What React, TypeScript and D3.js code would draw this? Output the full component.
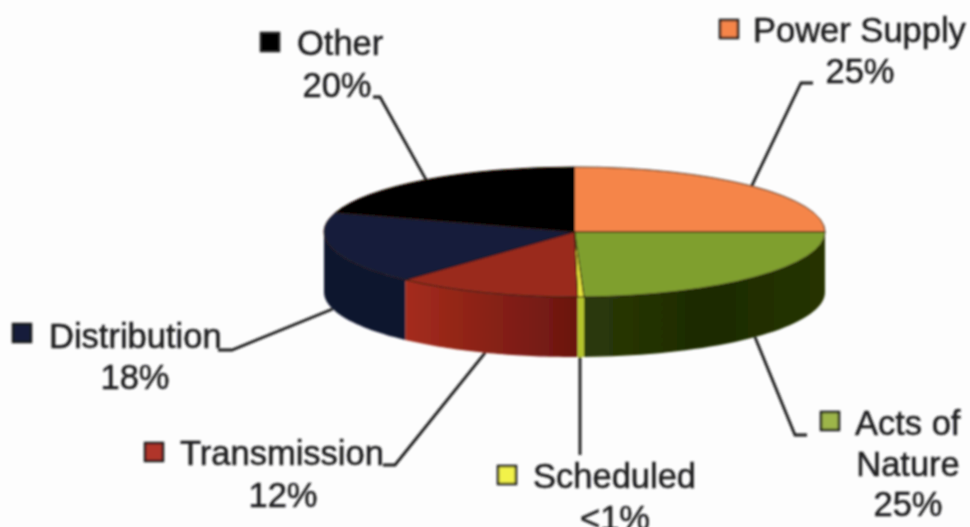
import React from 'react';
import * as d3 from 'd3';

const categories = ['Power Supply', 'Acts of Nature', 'Scheduled', 'Transmission', 'Distribution', 'Other'];
const shares = [25, 24.4, 0.4, 12, 18, 20.2];
const shareLabels = ['25%', '25%', '<1%', '12%', '18%', '20%'];
const topColors = ['#f5854a', '#7f9f2e', '#e6e43c', '#9a2a1c', '#131a3a', '#040404'];
const wallColors = ['#8a4a20', 'url(#greenWall)', '#b4c42c', 'url(#redWall)', '#11152f', '#040404'];
const swatchColors = ['#f5854a', '#9db548', '#f2f24a', '#b0352a', '#131a3a', '#040404'];

const WIDTH = 970;
const HEIGHT = 527;
const cx = 574.5;
const cy = 232;
const rx = 250.5;
const ry = 65;
const depth = 60;
const FONT = '"Liberation Sans", Arial, sans-serif';
const FONT_SIZE = 34.5;

// hand placed label layout, one entry per category
const swatches = [[720, 20], [821, 412], [498, 466], [145, 443], [13, 324], [261, 33]];
const labelLines = [
  [{ t: 'Power Supply', x: 753, y: 42 }, { t: shareLabels[0], x: 860, y: 83, mid: true }],
  [{ t: 'Acts of', x: 855, y: 435 }, { t: 'Nature', x: 908, y: 476, mid: true }, { t: shareLabels[1], x: 908, y: 516, mid: true }],
  [{ t: 'Scheduled', x: 533, y: 488 }, { t: shareLabels[2], x: 615, y: 530, mid: true }],
  [{ t: 'Transmission', x: 180, y: 465 }, { t: shareLabels[3], x: 283, y: 507, mid: true }],
  [{ t: 'Distribution', x: 49, y: 348 }, { t: shareLabels[4], x: 135, y: 389, mid: true }],
  [{ t: 'Other', x: 297, y: 55 }, { t: shareLabels[5], x: 337, y: 97, mid: true }],
];
// elbow points of each leader line, going away from the pie
const leaderElbows = [
  [[801, 83], [813, 83]],
  [[795, 435], [807, 435]],
  [[580, 455]],
  [[395, 465], [383, 465]],
  [[232, 350], [218, 350]],
  [[380, 97], [373, 97]],
];

const pie = d3.pie<number>().sort(null).startAngle(0).endAngle(2 * Math.PI);
const arcs = pie(shares);
// circle scaled to an ellipse by the group transform
const arcGen = d3.arc<d3.PieArcDatum<number>>().innerRadius(0).outerRadius(rx);

const edgeX = (a: number) => cx + rx * Math.sin(a);
const edgeY = (a: number) => cy - ry * Math.cos(a);

const wall = d3
  .area<number>()
  .x(a => edgeX(a))
  .y0(a => edgeY(a))
  .y1(a => edgeY(a) + depth);

// only the part of a slice between 90 and 270 degrees shows its side
function wallPath(start: number, end: number) {
  const a0 = Math.max(start, Math.PI / 2);
  const a1 = Math.min(end, (3 * Math.PI) / 2);
  if (a1 <= a0) return null;
  const steps = d3.range(0, 41).map(i => a0 + ((a1 - a0) * i) / 40);
  return wall(steps);
}

const leaderLine = d3.line();

function leaderPoints(i: number): [number, number][] {
  const d = arcs[i];
  const mid = (d.startAngle + d.endAngle) / 2;
  const front = Math.cos(mid) < 0;
  const elbows = leaderElbows[i] as [number, number][];
  // the scheduled slice is so thin that its leader just drops straight down
  const startX = elbows.length === 1 ? elbows[0][0] : edgeX(mid);
  const start: [number, number] = [startX, edgeY(mid) + (front ? depth : 0)];
  return [start, ...elbows];
}

export default function App() {
  return (
    <svg
      width={WIDTH}
      height={HEIGHT}
      viewBox={`0 0 ${WIDTH} ${HEIGHT}`}
      style={{ position: 'absolute', left: 0, top: 0, display: 'block', background: '#fdfdfd' }}
    >
      <defs>
        <linearGradient id="redWall" x1="0" x2="1" y1="0" y2="0">
          <stop offset="0" stopColor="#a52c1c" />
          <stop offset="1" stopColor="#6a1610" />
        </linearGradient>
        <linearGradient id="greenWall" x1="0" x2="1" y1="0" y2="0">
          <stop offset="0" stopColor="#2c3a08" />
          <stop offset="0.5" stopColor="#1c2a03" />
          <stop offset="1" stopColor="#263406" />
        </linearGradient>
        <filter id="soft" x="-5%" y="-5%" width="110%" height="110%">
          <feGaussianBlur stdDeviation="0.8" />
        </filter>
      </defs>
      <g filter="url(#soft)">
        {categories.map((c, i) => (
          <path key={c} d={leaderLine(leaderPoints(i)) || ''} fill="none" stroke="#1c1c1c" strokeWidth={2.8} />
        ))}
        {arcs.map((d, i) => {
          const p = wallPath(d.startAngle, d.endAngle);
          return p ? <path key={categories[i]} d={p} fill={wallColors[i]} stroke="none" /> : null;
        })}
        <g transform={`translate(${cx},${cy}) scale(1,${ry / rx})`}>
          {arcs.map((d, i) => (
            <path
              key={categories[i]}
              d={arcGen(d) || ''}
              fill={topColors[i]}
              stroke="#2a1a10"
              strokeWidth={1}
              vectorEffect="non-scaling-stroke"
            />
          ))}
        </g>
        {categories.map((c, i) => (
          <rect
            key={c}
            x={swatches[i][0]}
            y={swatches[i][1]}
            width={18}
            height={18}
            fill={swatchColors[i]}
            stroke="#1c1c1c"
            strokeWidth={2.5}
          />
        ))}
        {labelLines.flat().map(l => (
          <text
            key={l.t + l.x}
            x={l.x}
            y={l.y}
            fontFamily={FONT}
            fontSize={FONT_SIZE}
            fill="#1c1c1e"
            stroke="#1c1c1e"
            strokeWidth={0.5}
            textAnchor={l.mid ? 'middle' : 'start'}
          >
            {l.t}
          </text>
        ))}
      </g>
    </svg>
  );
}
